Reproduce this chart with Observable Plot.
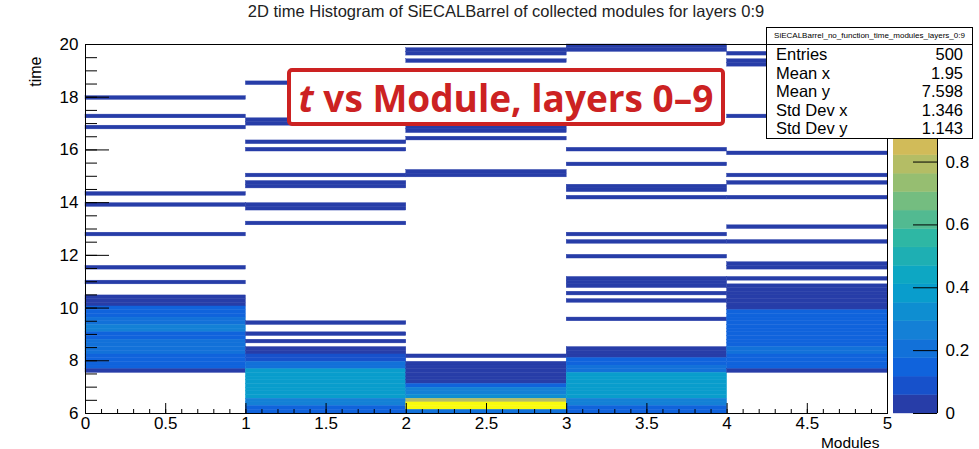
<!DOCTYPE html>
<html><head><meta charset="utf-8">
<script src="https://cdn.jsdelivr.net/npm/d3@7"></script>
<script src="https://cdn.jsdelivr.net/npm/@observablehq/plot@0.6"></script>
<style>
body{margin:0;background:#fff;}
#wrap{position:relative;width:979px;height:449px;overflow:hidden;font-family:"Liberation Sans",Arial,sans-serif;}
#wrap svg{position:absolute;top:0;}
.title{position:absolute;left:0;width:1012px;top:2px;text-align:center;font-size:16.5px;color:#222;white-space:nowrap;}
.tag{position:absolute;left:287px;top:68px;width:438px;height:58px;box-sizing:border-box;border:4.5px solid #cc2222;border-radius:5px;background:#fff;color:#cc2222;font:700 37px "Open Sans",sans-serif;display:flex;align-items:center;justify-content:center;white-space:nowrap;}
.stats{position:absolute;left:766px;top:27px;width:207px;height:112px;box-sizing:border-box;border:1px solid #000;background:#fff;font-family:"Liberation Sans",Arial,sans-serif;}
.stats .hd{height:16px;border-bottom:1px solid #000;font-size:8px;text-align:center;line-height:15px;}
.stats .row{display:flex;justify-content:space-between;font-size:16.5px;line-height:18.5px;padding:0 9px 0 9px;}
</style></head>
<body><div id="wrap"></div>
<script>
// ---------------- data ----------------
const TIME_MIN = 6, TIME_MAX = 20, BIN_W = 0.14;   // 100 time bins
const ZMAX = 1.174;
const modules = [0, 1, 2, 3, 4];
// [time-bin index, content]
const module0 = [[85,0.03],[80,0.03],[77,0.03],[59,0.03],[56,0.03],[48,0.03],[39,0.03],[35,0.03],
  [31,0.03],[30,0.03],[29,0.03],[28,0.15],[27,0.15],[26,0.15],[25,0.2],[24,0.2],[23,0.26],[22,0.26],
  [21,0.15],[20,0.15],[19,0.2],[18,0.2],[17,0.2],[16,0.2],[15,0.15],[14,0.15],[13,0.15],[12,0.15],[11,0.03]];
const module1 = [[89,0.03],[79,0.03],[78,0.03],[73,0.03],[71,0.03],[64,0.03],[62,0.03],[61,0.03],[56,0.03],
  [55,0.03],[51,0.03],[24,0.03],[21,0.03],[19,0.03],
  [17,0.03],[16,0.03],[15,0.1],[14,0.1],[13,0.2],[12,0.2],[11,0.38],[10,0.38],[9,0.38],[8,0.38],[7,0.38],
  [6,0.38],[5,0.38],[4,0.38],[3,0.26],[2,0.26],[1,0.15],[0,0.15]];
const module2 = [[98,0.03],[97,0.03],[95,0.03],[77,0.03],[76,0.03],[74,0.03],[65,0.03],[64,0.03],[15,0.03],
  [13,0.03],[12,0.03],[11,0.03],[10,0.03],[9,0.03],[8,0.03],[7,0.12],[6,0.26],[5,0.26],[4,0.32],
  [3,0.8],[2,1.17],[1,1.17],[0,0.2]];
const module3 = [[99,0.03],[98,0.03],[71,0.03],[67,0.03],[61,0.03],[60,0.03],[58,0.03],[48,0.03],[46,0.03],
  [42,0.03],[36,0.03],[35,0.03],[34,0.03],[32,0.03],[30,0.03],[25,0.03],
  [17,0.03],[16,0.03],[15,0.03],[14,0.12],[13,0.12],[12,0.2],[11,0.2],[10,0.38],[9,0.38],[8,0.38],[7,0.38],
  [6,0.38],[5,0.38],[4,0.38],[3,0.26],[2,0.26],[1,0.15],[0,0.15]];
const module4 = [[97,0.03],[95,0.03],[94,0.03],[80,0.03],[70,0.03],[64,0.03],[62,0.03],[58,0.03],[50,0.03],
  [46,0.03],[40,0.03],[39,0.03],[36,0.03],
  [34,0.03],[33,0.03],[32,0.03],[31,0.03],[30,0.03],[29,0.03],[28,0.03],[27,0.12],[26,0.12],[25,0.12],
  [24,0.15],[23,0.15],[22,0.15],[21,0.15],[20,0.15],[19,0.15],[18,0.15],[17,0.2],[16,0.2],
  [15,0.12],[14,0.12],[13,0.12],[12,0.12],[11,0.03]];
const moduleBins = [module0, module1, module2, module3, module4];
const xTicks = [0, 0.5, 1, 1.5, 2, 2.5, 3, 3.5, 4, 4.5, 5];
const yTicks = [6, 8, 10, 12, 14, 16, 18, 20];
const zTicks = [0, 0.2, 0.4, 0.6, 0.8];
const statsRows = [["Entries","500"],["Mean x","1.95"],["Mean y","7.598"],["Std Dev x","1.346"],["Std Dev y","1.143"]];
const histName = "SiECALBarrel_no_function_time_modules_layers_0:9";
const titleText = "2D time Histogram of SiECALBarrel of collected modules for layers 0:9";

// ---------------- palette (ROOT kBird, 20 contours) ----------------
const birdStops = [0, .125, .25, .375, .5, .625, .75, .875, 1];
const birdR = [.2082,.0592,.0780,.0232,.1802,.5301,.8186,.9956,.9764];
const birdG = [.1664,.3599,.5041,.6419,.7178,.7492,.7328,.7862,.9832];
const birdB = [.5293,.8684,.8385,.7914,.6425,.4662,.3499,.1968,.0539];
function bird(f){
  let j = 0; while (j < 7 && f > birdStops[j+1]) j++;
  const t = (f - birdStops[j]) / (birdStops[j+1] - birdStops[j]);
  const c = a => Math.round(255*(a[j] + t*(a[j+1]-a[j])));
  return `rgb(${c(birdR)},${c(birdG)},${c(birdB)})`;
}
const NCONT = 20;
const contourColors = d3.range(NCONT).map(i => bird(Math.floor((i+0.99)*255/NCONT)/254));
const thresholds = d3.range(1, NCONT).map(i => i*ZMAX/NCONT);
const colorScale = {type:"threshold", domain: thresholds, range: contourColors};

const cells = [];
moduleBins.forEach((bins, m) => bins.forEach(([k, v]) => cells.push({
  x1: modules[m], x2: modules[m] + 1, y1: TIME_MIN + k*BIN_W, y2: TIME_MIN + (k+1)*BIN_W, v})));
const bar = d3.range(NCONT).map(i => ({z1: i*ZMAX/NCONT, z2: (i+1)*ZMAX/NCONT, v: (i+0.5)*ZMAX/NCONT}));

const W = 979, H = 449, mL = 85, mR = 92, mT = 44, mB = 36;
const FW = W - mL - mR, FH = H - mT - mB;
const xMinor = d3.range(0, 51).map(i => i/10);
const yMinor = d3.range(0, 29).map(i => 6 + i/2);
const fmt = d => String(d);

const main = Plot.plot({
  width: W, height: H, marginLeft: mL, marginRight: mR, marginTop: mT, marginBottom: mB,
  style: {background: "transparent", fontFamily: "Liberation Sans, Arial, sans-serif"},
  x: {domain: [0, 5]}, y: {domain: [TIME_MIN, TIME_MAX]},
  color: colorScale,
  marks: [
    Plot.rect(cells, {x1: "x1", x2: "x2", y1: "y1", y2: "y2", fill: "v", stroke: "v", strokeWidth: 0.4}),
    Plot.tickX(xMinor, {x: d => d, insetTop: FH - 4, stroke: "#000"}),
    Plot.tickX(xTicks, {x: d => d, insetTop: FH - 10, stroke: "#000"}),
    Plot.tickY(yMinor, {y: d => d, insetRight: FW - 12, stroke: "#000"}),
    Plot.tickY(yTicks, {y: d => d, insetRight: FW - 24, stroke: "#000"}),
    Plot.frame({stroke: "#000"}),
    Plot.axisX({ticks: xTicks, tickSize: 0, tickPadding: 3, fontSize: 17, tickFormat: fmt, label: null, fill: "#000"}),
    Plot.axisY({ticks: yTicks, tickSize: 0, tickPadding: 7, fontSize: 17, tickFormat: fmt, label: null, fill: "#000"}),
    Plot.text(["Modules"], {frameAnchor: "bottom-right", text: d => d, dy: 34, dx: -8, lineAnchor: "bottom", fontSize: 15.5, textAnchor: "end", fill: "#000"}),
    Plot.text(["time"], {frameAnchor: "top-left", text: d => d, dx: -56, dy: 12, rotate: -90, fontSize: 16, textAnchor: "end", fill: "#000"})
  ]
});
main.style.left = "0px";

const cbar = Plot.plot({
  width: 86, height: H, marginLeft: 0, marginRight: 42, marginTop: mT, marginBottom: mB,
  style: {background: "transparent", fontFamily: "Liberation Sans, Arial, sans-serif"},
  x: {domain: [0, 1], axis: null}, y: {domain: [0, ZMAX]},
  color: colorScale,
  marks: [
    Plot.rect(bar, {x1: 0, x2: 1, y1: "z1", y2: "z2", fill: "v", stroke: "v", strokeWidth: 0.4}),
    Plot.tickY(zTicks, {y: d => d, insetLeft: 20, stroke: "#000"}),
    Plot.ruleX([1], {stroke: "#000"}),
    Plot.axisY({anchor: "right", ticks: zTicks, tickSize: 0, tickPadding: 8, fontSize: 17, tickFormat: fmt, label: null, fill: "#000"})
  ]
});
cbar.style.left = "893px";

const wrap = document.getElementById("wrap");
wrap.appendChild(main);
wrap.appendChild(cbar);

const title = document.createElement("div");
title.className = "title"; title.textContent = titleText; wrap.appendChild(title);

const tag = document.createElement("div");
tag.className = "tag";
tag.innerHTML = '<span><i>t</i> vs Module, layers 0–9</span>';
wrap.appendChild(tag);

const stats = document.createElement("div");
stats.className = "stats";
const hd = document.createElement("div"); hd.className = "hd"; hd.textContent = histName; stats.appendChild(hd);
statsRows.forEach(([a, b]) => {
  const r = document.createElement("div"); r.className = "row";
  const s1 = document.createElement("span"); s1.textContent = a;
  const s2 = document.createElement("span"); s2.textContent = b;
  r.appendChild(s1); r.appendChild(s2); stats.appendChild(r);
});
wrap.appendChild(stats);
</script>
</body></html>
